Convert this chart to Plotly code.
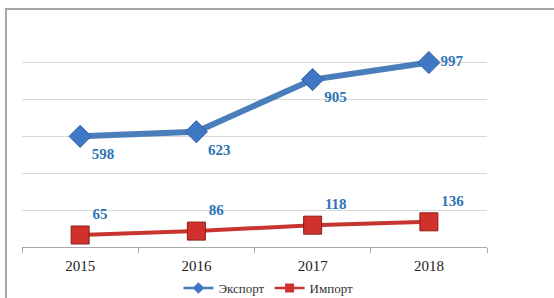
import plotly.graph_objects as go

years = ["2015", "2016", "2017", "2018"]
export_vals = [598, 623, 905, 997]
import_vals = [65, 86, 118, 136]
export_name = "Экспорт"
import_name = "Импорт"

serif = "Liberation Serif, Times New Roman, serif"
label_color = "#2e75b6"
exp_line, exp_mark = "#4a7ebb", "#3f78c4"
imp_line, imp_mark = "#c8352f", "#d0312d"

fig = go.Figure()
fig.add_trace(go.Scatter(
    x=years, y=export_vals, name=export_name, mode="lines+markers+text", showlegend=False,
    line=dict(color=exp_line, width=6),
    marker=dict(symbol="diamond", size=17, color=exp_mark, line=dict(color="#2f5f9e", width=1)),
    text=[str(v) for v in export_vals],
    textposition=["bottom right", "bottom right", "bottom right", "middle right"],
    textfont=dict(family=serif, size=15, color=label_color, weight="bold"),
    cliponaxis=False,
))
fig.add_trace(go.Scatter(
    x=years, y=import_vals, name=import_name, mode="lines+markers+text", showlegend=False,
    line=dict(color=imp_line, width=4),
    marker=dict(symbol="square", size=18, color=imp_mark, line=dict(color="#8e1c18", width=1)),
    text=[str(v) for v in import_vals],
    textposition=["top right", "top right", "top right", "top right"],
    textfont=dict(family=serif, size=15, color=label_color, weight="bold"),
    cliponaxis=False,
))
# legend entries with the small symbols of the reference legend
fig.add_trace(go.Scatter(x=[None], y=[None], name=export_name, mode="lines+markers",
                         line=dict(color=exp_line, width=2.5),
                         marker=dict(symbol="diamond", size=9, color=exp_mark)))
fig.add_trace(go.Scatter(x=[None], y=[None], name=import_name, mode="lines+markers",
                         line=dict(color=imp_line, width=2.5),
                         marker=dict(symbol="square", size=9, color=imp_mark)))

fig.update_layout(
    width=554, height=298,
    margin=dict(l=22, r=67, t=25, b=51, autoexpand=False),
    paper_bgcolor="white", plot_bgcolor="white",
    font=dict(family=serif, size=14, color="#222"),
    legend=dict(orientation="h", x=0.53, xanchor="center", y=-0.185, yanchor="middle",
                font=dict(family=serif, size=13, color="#333"),
                itemwidth=30, tracegroupgap=0, bgcolor="rgba(0,0,0,0)"),
    xaxis=dict(type="category", range=[-0.5, 3.5], tickson="boundaries", ticks="outside", ticklen=5,
               tickcolor="#aaa", showline=True, linecolor="#aaa", linewidth=1,
               ticklabelstandoff=5,
               showgrid=False, tickfont=dict(family=serif, size=15, color="#222")),
    yaxis=dict(range=[0, 1200], dtick=200, showgrid=True, gridcolor="#d9d9d9",
               showticklabels=False, zeroline=False, showline=False, fixedrange=True),
    shapes=[dict(type="rect", xref="paper", yref="paper",
                 x0=-0.0344, x1=1.2, y0=-0.3, y1=1.0723,
                 line=dict(color="#a6a6a6", width=2), layer="below")],
)

fig.write_html("out.html", config={"displayModeBar": False},
               post_script="document.body.style.margin='0';")
